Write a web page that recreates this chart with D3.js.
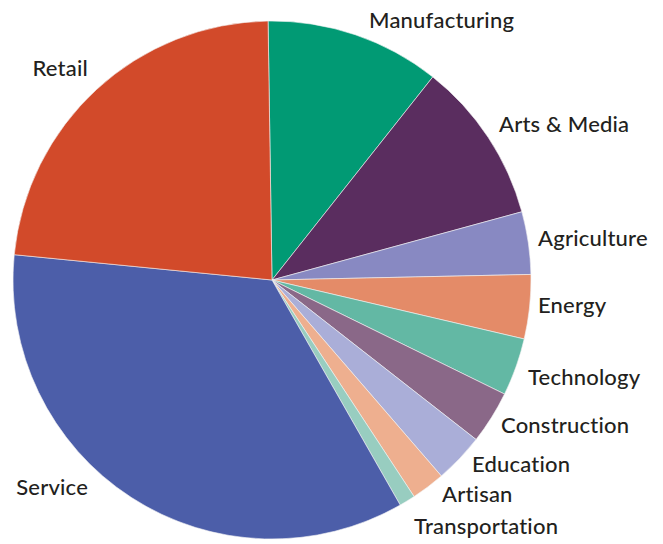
<!DOCTYPE html>
<html><head><meta charset="utf-8">
<script src="https://cdn.jsdelivr.net/npm/d3@7"></script>
<style>html,body{margin:0;padding:0;background:#fff;}svg{display:block;}</style>
</head><body>
<svg id="c" width="663" height="544"></svg>
<script>
const categories = ["Manufacturing","Arts & Media","Agriculture","Energy","Technology","Construction","Education","Artisan","Transportation","Service","Retail"];
const shares = [10.9, 10.1, 3.9, 4.0, 3.6, 3.3, 3.1, 2.1, 1.0, 34.8, 23.2];
const colors = ["#019a74","#5a2d5f","#8889c2","#e48b68","#63b8a4","#8a6888","#aaaed8","#eeaf8f","#98cdc0","#4c5ea9","#d24a2a"];

// label layout (pixel anchors, kept separate from data)
const labelPos = {
  "Manufacturing":[369,28,"start"], "Arts & Media":[499,132,"start"], "Agriculture":[538,246,"start"],
  "Energy":[538,313,"start"], "Technology":[528,385,"start"], "Construction":[501,433,"start"],
  "Education":[472,472,"start"], "Artisan":[442,502,"start"], "Transportation":[414,534,"start"],
  "Service":[88,495,"end"], "Retail":[88,76,"end"]
};

const svg = d3.select("#c");
const cx = 272, cy = 280, R = 259;
const off = -0.87 * Math.PI / 180;
const pie = d3.pie().sort(null).value(d => d.v).startAngle(off).endAngle(2*Math.PI + off);
const data = categories.map((c,i)=>({c, v: shares[i], col: colors[i]}));
const arc = d3.arc().innerRadius(0).outerRadius(R);
const g = svg.append("g").attr("transform", `translate(${cx},${cy})`);
g.selectAll("path").data(pie(data)).join("path")
  .attr("d", arc).attr("fill", d => d.data.col)
  .attr("stroke", "#f3f3f3").attr("stroke-width", 0.6);

svg.selectAll("text.lbl").data(data).join("text").attr("class","lbl")
  .attr("x", d => labelPos[d.c][0]).attr("y", d => labelPos[d.c][1])
  .attr("text-anchor", d => labelPos[d.c][2])
  .attr("font-family", "Lato, 'Open Sans', sans-serif").attr("font-size", 22)
  .attr("font-weight", 500).attr("fill", "#231f20")
  .style("letter-spacing", "0.2px")
  .text(d => d.c);
</script>
</body></html>
